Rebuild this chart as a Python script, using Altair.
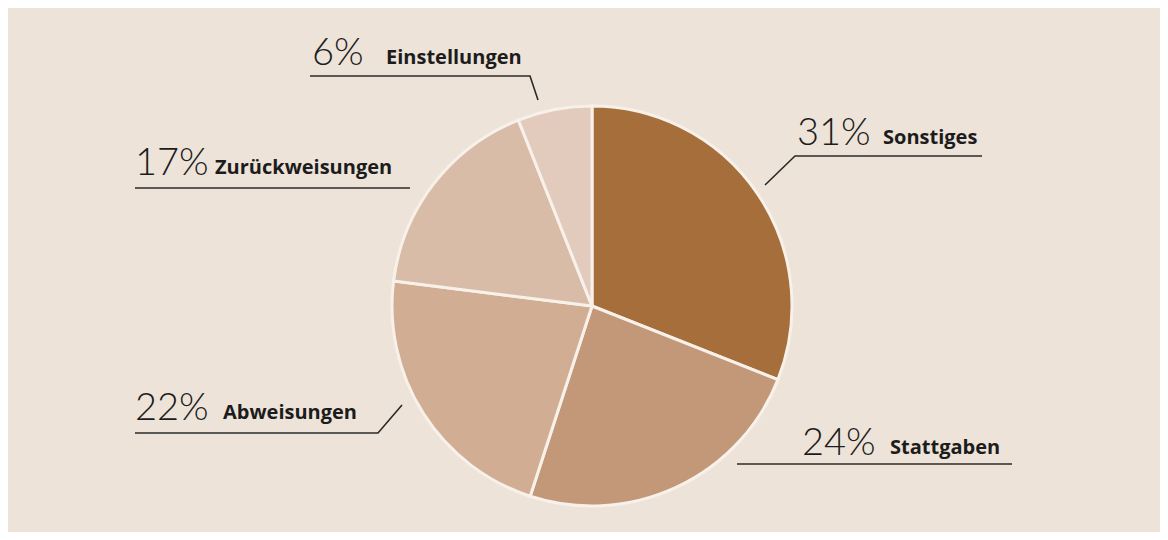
import altair as alt
import pandas as pd

# ---- data ----
categories = ["Sonstiges", "Stattgaben", "Abweisungen", "Zurückweisungen", "Einstellungen"]
shares = [31, 24, 22, 17, 6]
colors = ["#a66e3a", "#c39878", "#d1ad93", "#d9bca8", "#e2cbbd"]

# ---- annotation layout (chart pixel coordinates) ----
pct_x = [789, 794, 127, 127, 304]
base_y = [137, 447, 412, 167, 57]
name_x = [875, 882, 215, 207, 378]
leader_x = [[974, 787, 757], [1004, 729], [127, 370, 394], [127, 402], [302, 522, 530]]
leader_y = [[148, 148, 177], [456, 456], [425, 425, 397], [180, 180], [68, 68, 92]]

CX, CY, R = 584, 298, 200
BG = "#ede3d8"
INK = "#1c1c1c"

pie_df = pd.DataFrame({"cat": categories, "share": shares, "idx": range(len(categories))})

lab_df = pd.DataFrame({
    "cat": categories,
    "pct": [f"{v}%" for v in shares],
    "px": pct_x,
    "nx": name_x,
    "by": base_y,
})

rows = []
for c, xs, ys in zip(categories, leader_x, leader_y):
    for i, (x, y) in enumerate(zip(xs, ys)):
        rows.append({"cat": c, "i": i, "x": x, "y": y})
line_df = pd.DataFrame(rows)

pie = alt.Chart(pie_df).mark_arc(
    radius=R, stroke="#f7f1ea", strokeWidth=3
).encode(
    theta=alt.Theta("share:Q", stack=True),
    color=alt.Color("cat:N", scale=alt.Scale(domain=categories, range=colors), legend=None),
    order=alt.Order("idx:Q"),
    x=alt.value(CX),
    y=alt.value(CY),
)

leaders = alt.Chart(line_df).mark_line(color="#2a2a2a", strokeWidth=1.6).encode(
    x=alt.X("x:Q", scale=None, axis=None),
    y=alt.Y("y:Q", scale=None, axis=None),
    detail="cat:N",
    order=alt.Order("i:Q"),
)

pct_text = alt.Chart(lab_df).mark_text(
    align="left", baseline="alphabetic", font="Lato", fontSize=38, fontWeight=300, color=INK
).encode(
    x=alt.X("px:Q", scale=None, axis=None),
    y=alt.Y("by:Q", scale=None, axis=None),
    text="pct:N",
)

name_text = alt.Chart(lab_df).mark_text(
    align="left", baseline="alphabetic", font="Open Sans", fontSize=20, fontWeight=700, color=INK, dy=-1
).encode(
    x=alt.X("nx:Q", scale=None, axis=None),
    y=alt.Y("by:Q", scale=None, axis=None),
    text="cat:N",
)

chart = alt.layer(pie, leaders, pct_text, name_text).properties(
    width=1152,
    height=524,
    autosize=alt.AutoSizeParams(type="fit", contains="padding"),
    padding=0,
    background=BG,
).configure_view(stroke=None)

chart.save("out.html", embed_options={"renderer": "svg", "actions": False})
